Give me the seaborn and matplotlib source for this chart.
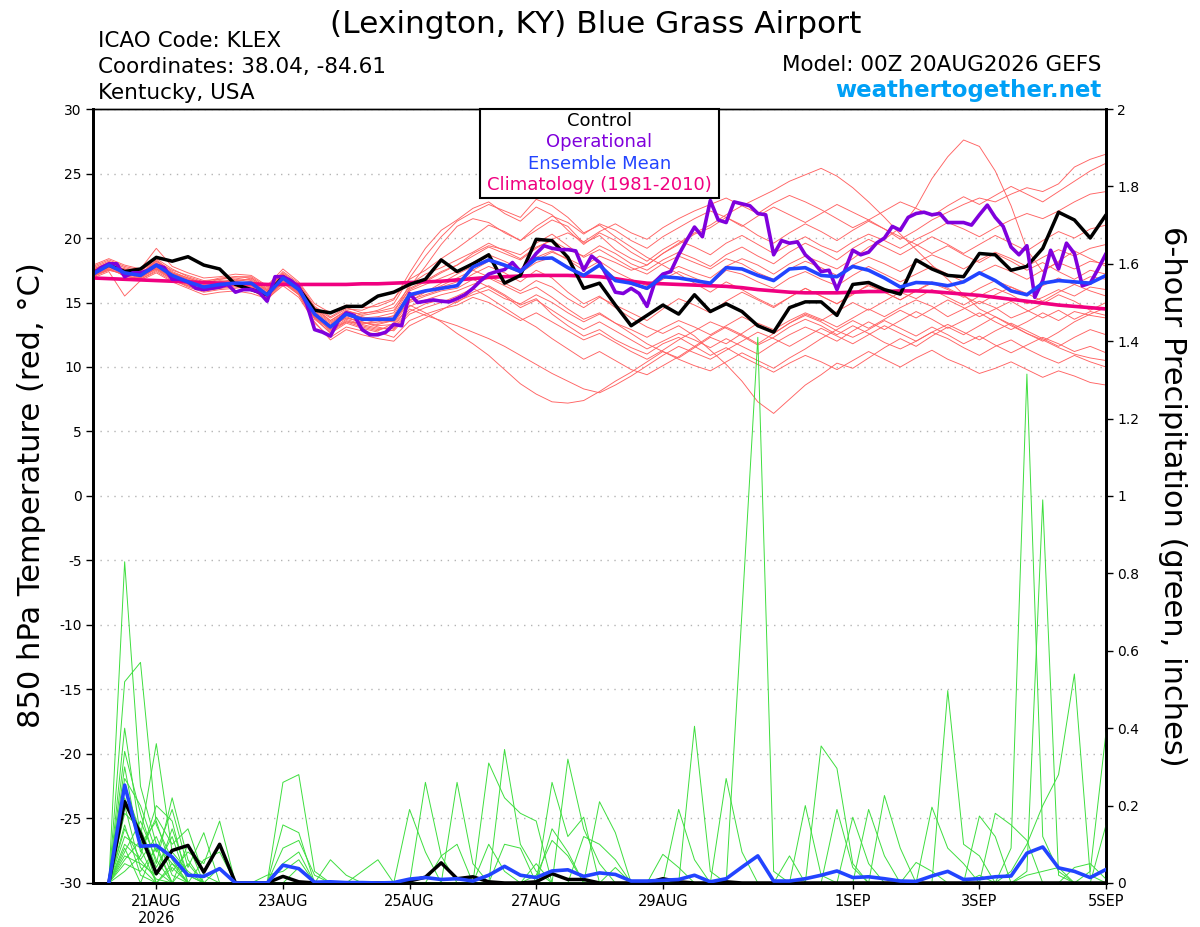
import numpy as np
import pandas as pd
import seaborn as sns
import matplotlib.pyplot as plt
from matplotlib.patches import Rectangle


# forecast hours since 00Z 20AUG2026 (6-hourly ensemble, 3-hourly operational)
hours = np.arange(0, 385, 6)
hours_op = np.arange(0, 385, 3)

tick_hours = [24, 72, 120, 168, 216, 288, 336, 384]
tick_labels = ['21AUG\n2026', '23AUG', '25AUG', '27AUG', '29AUG', '1SEP', '3SEP', '5SEP']

# 850 hPa temperature (C)
control_t = [17.3, 17.9, 17.4, 17.6, 18.5, 18.2, 18.55, 17.9, 17.6, 16.4, 16.0, 15.6, 17.0,
             16.1, 14.4, 14.2, 14.7, 14.7, 15.5, 15.8, 16.4, 16.8, 18.3, 17.4, 18.0, 18.7,
             16.5, 17.1, 19.9, 19.8, 18.5, 16.1, 16.5, 14.8, 13.2, 14.0, 14.8, 14.1, 15.6,
             14.3, 14.9, 14.3, 13.2, 12.7, 14.6, 15.05, 15.05, 14.0, 16.4, 16.55, 16.0, 15.65,
             18.3, 17.6, 17.1, 17.0, 18.8, 18.7, 17.5, 17.8, 19.2, 22.0, 21.4, 20.0, 21.8]

oper_t = [17.2, 17.7, 18.0, 18.0, 17.0, 17.3, 17.3, 17.5, 17.9, 17.7, 16.8, 16.8, 16.6,
          16.1, 16.0, 16.1, 16.2, 16.4, 15.8, 16.0, 16.0, 15.8, 15.1, 17.0, 17.0, 16.7,
          16.2, 14.9, 12.9, 12.7, 12.4, 13.6, 14.2, 14.0, 12.9, 12.5, 12.5, 12.7, 13.3,
          13.2, 15.7, 15.0, 15.1, 15.2, 15.1, 15.05, 15.3, 15.6, 16.1, 16.7, 17.2, 17.4,
          17.55, 18.1, 17.4, 18.0, 18.8, 19.4, 19.2, 19.1, 19.1, 19.0, 17.5, 18.6, 18.1,
          17.0, 15.8, 15.7, 16.1, 15.7, 14.7, 16.6, 17.2, 17.4, 18.7, 19.8, 20.85, 20.1,
          22.9, 21.4, 21.2, 22.8, 22.65, 22.5, 21.9, 21.8, 18.7, 19.8, 19.6, 19.7, 18.7,
          18.15, 17.4, 17.5, 16.0, 17.5, 19.05, 18.7, 18.9, 19.6, 20.0, 20.9, 20.6, 21.6,
          21.9, 22.0, 21.8, 21.9, 21.2, 21.2, 21.2, 21.0, 21.8, 22.55, 21.6, 20.9, 19.3,
          18.7, 19.4, 15.4, 16.7, 19.05, 17.6, 19.6, 18.8, 16.3, 16.5, 17.6, 18.8]

mean_t = [17.2, 17.9, 17.3, 17.1, 17.9, 17.1, 16.6, 16.2, 16.4, 16.5, 16.5, 15.6, 16.9,
          16.0, 14.1, 13.1, 14.1, 13.7, 13.7, 13.7, 15.6, 15.9, 16.1, 16.3, 17.75, 18.3,
          17.9, 17.4, 18.4, 18.45, 17.7, 17.1, 17.9, 16.7, 16.5, 16.1, 17.0, 16.9, 16.7,
          16.5, 17.7, 17.6, 17.1, 16.7, 17.6, 17.7, 17.1, 17.0, 17.8, 17.5, 16.9, 16.2,
          16.55, 16.5, 16.3, 16.6, 17.3, 16.7, 15.9, 15.6, 16.5, 16.7, 16.6, 16.5, 17.1]

clim_t = [16.9, 16.85, 16.8, 16.75, 16.7, 16.65, 16.6, 16.55, 16.5, 16.45, 16.45, 16.4, 16.4,
          16.4, 16.4, 16.4, 16.4, 16.45, 16.45, 16.5, 16.55, 16.6, 16.65, 16.75, 16.85, 16.95,
          17.0, 17.05, 17.1, 17.1, 17.1, 17.05, 17.0, 16.85, 16.65, 16.5, 16.45, 16.4, 16.35,
          16.3, 16.25, 16.15, 16.0, 15.9, 15.8, 15.75, 15.75, 15.75, 15.8, 15.85, 15.85, 15.9,
          15.9, 15.85, 15.75, 15.65, 15.55, 15.4, 15.25, 15.1, 14.95, 14.8, 14.7, 14.6, 14.5]

t01 = [17.5, 18.0, 17.6, 17.2, 18.3, 17.4, 16.9, 16.5, 16.8, 16.9, 16.7, 16.0, 17.3,
       16.4, 14.6, 13.8, 14.5, 14.4, 14.9, 15.3, 16.8, 17.5, 18.4, 19.2, 20.1, 21.0,
       20.5, 19.8, 20.6, 21.4, 20.9, 19.6, 20.2, 19.1, 18.4, 17.9, 18.8, 19.5, 20.3,
       20.8, 21.6, 21.0, 20.2, 19.6, 20.4, 21.1, 20.5, 19.8, 20.6, 21.3, 20.7, 19.9,
       20.6, 21.4, 22.0, 22.6, 23.1, 22.8, 23.4, 23.9, 23.6, 24.2, 25.5, 26.1, 26.5]
t02 = [17.0, 17.6, 17.1, 16.8, 17.5, 16.8, 16.3, 15.9, 16.1, 16.2, 16.0, 15.2, 16.5,
       15.6, 13.4, 12.3, 13.1, 12.8, 12.5, 12.9, 14.3, 14.9, 15.2, 15.0, 15.8, 16.3,
       15.6, 14.8, 15.3, 14.1, 13.2, 12.4, 12.9, 12.1, 11.5, 11.0, 11.8, 12.3, 11.6,
       10.9, 11.5, 10.8, 10.2, 9.6, 10.3, 10.9, 10.4, 9.8, 10.5, 11.2, 10.6, 10.0,
       10.7, 11.3, 10.6, 10.1, 9.5, 9.9, 10.4, 9.8, 9.2, 9.7, 9.3, 8.8, 8.6]
t03 = [17.3, 17.7, 17.4, 16.9, 17.7, 17.0, 16.5, 16.3, 16.2, 16.6, 16.4, 15.4, 16.7,
       15.7, 13.9, 12.8, 13.6, 13.2, 12.9, 13.1, 14.8, 14.2, 13.5, 12.6, 11.8, 10.9,
       9.8, 8.7, 7.9, 7.3, 7.2, 7.4, 8.1, 8.9, 9.6, 10.4, 11.2, 10.7, 11.5,
       12.3, 11.8, 12.6, 13.4, 12.9, 13.6, 14.2, 13.7, 13.1, 13.8, 14.5, 13.9, 14.6,
       15.2, 14.7, 13.9, 14.5, 15.1, 14.6, 13.8, 14.3, 14.9, 15.6, 15.1, 14.4, 15.0]
t04 = [17.6, 18.1, 17.5, 17.3, 18.0, 17.2, 16.8, 16.4, 16.6, 16.7, 16.8, 15.9, 17.1,
       16.2, 14.3, 13.4, 14.2, 13.9, 13.6, 13.5, 15.2, 15.6, 16.0, 16.4, 17.2, 17.8,
       17.3, 16.6, 17.5, 16.9, 15.8, 14.9, 15.5, 14.6, 13.8, 13.1, 12.6, 13.2, 12.4,
       11.3, 10.2, 8.9, 7.3, 6.4, 7.5, 8.6, 9.4, 10.3, 9.9, 10.7, 11.5, 12.2,
       11.6, 12.4, 13.1, 12.5, 13.2, 13.9, 13.3, 12.6, 12.0, 12.7, 13.5, 14.1, 14.6]
t05 = [17.2, 17.8, 17.0, 16.9, 17.8, 16.9, 16.4, 16.0, 16.3, 16.3, 16.4, 15.5, 16.8,
       15.9, 14.0, 13.0, 13.9, 13.4, 13.5, 13.8, 15.9, 16.4, 16.9, 17.4, 18.1, 18.7,
       18.2, 17.6, 18.5, 19.0, 18.3, 17.5, 18.2, 17.4, 16.8, 16.3, 17.2, 17.8, 17.3,
       16.9, 17.8, 18.4, 17.9, 17.2, 18.0, 18.6, 18.1, 17.6, 18.4, 19.3, 19.9, 20.8,
       22.4, 24.6, 26.3, 27.6, 27.1, 25.2, 22.5, 19.1, 17.4, 18.2, 19.0, 18.4, 17.8]
t06 = [17.9, 18.4, 17.9, 17.6, 19.2, 17.8, 17.3, 16.9, 17.0, 17.2, 17.1, 16.3, 17.6,
       16.6, 14.9, 14.2, 14.8, 14.6, 14.7, 15.2, 17.3, 19.2, 20.6, 21.4, 22.3, 22.8,
       21.9, 21.3, 22.4, 21.8, 20.6, 19.5, 20.4, 19.8, 18.9, 18.2, 19.1, 19.8, 19.3,
       18.7, 19.6, 20.2, 19.5, 18.8, 19.5, 20.1, 19.4, 18.9, 19.7, 20.3, 19.8, 19.2,
       19.9, 20.5, 21.2, 20.7, 20.1, 20.8, 21.4, 21.9, 21.5, 22.1, 22.8, 23.4, 23.6]
t07 = [17.4, 17.9, 17.2, 17.0, 17.6, 16.8, 16.2, 15.8, 16.0, 16.1, 16.3, 15.3, 16.6,
       15.8, 13.8, 12.6, 13.4, 13.0, 12.7, 12.3, 13.6, 14.1, 14.5, 14.8, 15.4, 15.0,
       14.3, 13.6, 14.2, 13.5, 12.8, 12.1, 12.6, 11.9, 11.2, 10.6, 11.3, 12.1, 12.8,
       13.5, 13.0, 12.4, 11.7, 12.3, 13.1, 13.7, 13.2, 12.5, 13.2, 12.6, 11.9, 11.4,
       12.0, 12.7, 12.2, 11.5, 10.9, 11.6, 12.1, 11.4, 10.8, 10.3, 10.9, 10.4, 10.0]
t08 = [17.1, 17.5, 17.3, 17.2, 17.9, 17.3, 16.7, 16.1, 16.5, 16.4, 16.6, 15.8, 16.9,
       15.9, 14.2, 13.3, 14.3, 13.8, 13.9, 14.2, 16.4, 17.2, 17.7, 18.3, 18.9, 19.6,
       19.0, 18.4, 19.3, 19.8, 19.1, 18.6, 19.4, 18.8, 18.0, 17.5, 18.3, 18.9, 18.4,
       17.8, 18.7, 19.3, 18.6, 18.0, 18.9, 19.6, 19.0, 18.3, 19.2, 19.9, 19.3, 18.7,
       19.4, 20.1, 19.5, 18.8, 19.5, 20.2, 19.6, 19.0, 19.8, 20.5, 20.0, 20.7, 21.0]
t09 = [17.0, 17.7, 17.6, 17.1, 17.6, 17.0, 16.6, 16.2, 16.3, 16.5, 16.2, 15.6, 17.0,
       16.1, 14.1, 13.2, 13.8, 13.5, 13.1, 12.8, 14.1, 14.6, 15.0, 15.5, 16.1, 15.4,
       14.6, 13.8, 13.1, 12.2, 11.4, 10.6, 11.2, 10.5, 9.8, 9.4, 10.1, 10.8, 11.6,
       12.4, 13.1, 12.5, 11.8, 12.6, 13.4, 14.1, 13.6, 14.3, 15.0, 14.4, 15.1, 15.8,
       15.3, 16.0, 15.4, 14.8, 15.5, 16.1, 15.6, 14.9, 15.4, 16.0, 15.5, 16.2, 16.0]
t10 = [17.7, 18.2, 17.7, 17.4, 18.4, 17.6, 17.0, 16.6, 16.9, 17.0, 16.9, 16.1, 17.4,
       16.5, 14.7, 13.9, 14.6, 14.2, 14.3, 14.6, 16.2, 17.8, 19.5, 20.9, 21.5, 21.2,
       20.4, 19.8, 20.9, 21.7, 21.2, 20.3, 21.1, 20.6, 19.8, 19.2, 20.1, 20.8, 21.5,
       22.1, 21.6, 20.9, 21.7, 22.4, 21.8, 21.2, 21.9, 22.6, 22.0, 21.4, 22.1, 22.8,
       22.3, 21.7, 22.5, 23.2, 22.6, 23.3, 24.0, 23.4, 22.8, 23.6, 24.4, 25.2, 25.8]
t11 = [17.3, 17.9, 17.4, 17.0, 17.8, 17.1, 16.6, 16.3, 16.4, 16.6, 16.5, 15.7, 16.8,
       15.9, 14.1, 13.0, 14.0, 13.6, 13.8, 13.9, 15.4, 15.9, 16.2, 16.6, 17.5, 18.2,
       17.8, 17.3, 18.1, 18.5, 17.8, 17.2, 17.9, 16.9, 16.4, 16.0, 16.8, 17.4, 16.9,
       16.4, 17.5, 17.2, 16.6, 16.1, 16.9, 17.4, 16.8, 16.3, 17.1, 17.8, 17.2, 16.6,
       17.2, 17.8, 17.2, 16.6, 17.3, 17.9, 17.4, 16.8, 17.5, 18.1, 17.6, 18.2, 18.0]
t12 = [16.9, 17.4, 15.5, 16.7, 17.3, 16.6, 16.1, 15.6, 15.8, 15.9, 15.7, 15.3, 16.3,
       15.4, 13.5, 12.1, 12.9, 12.5, 12.2, 12.0, 13.2, 13.8, 14.4, 15.1, 15.6, 16.0,
       15.3, 14.9, 15.6, 15.0, 14.2, 13.5, 14.1, 13.4, 12.9, 12.3, 13.0, 13.6, 13.1,
       12.5, 13.2, 13.9, 13.3, 12.6, 13.4, 14.0, 13.5, 12.8, 12.3, 12.9, 13.6, 13.0,
       12.4, 13.1, 12.5, 11.8, 12.4, 11.7, 11.1, 11.7, 12.3, 11.8, 11.2, 11.6, 11.1]
t13 = [17.8, 18.3, 17.8, 17.5, 18.2, 17.5, 17.1, 16.7, 16.8, 17.0, 17.0, 16.2, 17.2,
       16.3, 14.5, 13.6, 14.4, 14.0, 14.2, 14.4, 16.0, 16.6, 17.3, 17.9, 18.6, 19.3,
       18.8, 18.3, 19.2, 19.9, 20.4, 19.7, 20.5, 21.1, 20.4, 19.9, 20.8, 21.5, 22.1,
       22.6, 23.1, 22.5, 21.9, 22.7, 23.3, 22.8, 22.2, 21.5, 20.8, 21.4, 20.7, 20.1,
       19.5, 18.8, 19.4, 18.7, 18.1, 18.8, 18.2, 17.5, 18.1, 17.4, 16.8, 17.5, 17.2]
t14 = [17.2, 17.6, 17.1, 16.8, 17.4, 16.7, 16.3, 15.9, 16.2, 16.3, 16.1, 15.4, 16.6,
       15.6, 13.7, 12.7, 13.5, 13.1, 12.8, 13.4, 15.0, 15.5, 15.9, 16.1, 16.8, 16.2,
       15.5, 14.6, 15.2, 14.4, 13.6, 12.9, 13.5, 12.8, 12.1, 11.4, 12.0, 12.6, 12.1,
       11.5, 12.2, 11.6, 11.0, 11.8, 12.5, 13.1, 12.6, 12.0, 12.8, 13.5, 12.9, 13.6,
       14.3, 13.7, 13.0, 13.6, 14.2, 13.5, 12.9, 13.5, 14.2, 13.6, 14.3, 14.0, 13.8]
t15 = [17.5, 18.0, 17.4, 17.3, 18.1, 17.3, 16.8, 16.4, 16.6, 16.8, 16.6, 15.9, 16.9,
       16.1, 14.4, 13.5, 14.2, 13.8, 13.6, 14.0, 16.1, 16.7, 17.4, 17.9, 18.8, 19.4,
       19.1, 18.7, 19.6, 20.3, 19.4, 18.5, 19.1, 18.4, 17.7, 17.2, 18.0, 18.6, 18.1,
       17.6, 18.4, 18.0, 17.3, 16.8, 17.6, 18.2, 17.7, 17.1, 17.9, 18.5, 18.0, 17.4,
       18.1, 18.7, 18.2, 17.6, 18.3, 18.9, 18.4, 17.8, 18.5, 19.1, 18.6, 19.2, 19.5]
t16 = [17.1, 17.6, 17.5, 17.0, 17.7, 16.9, 16.4, 16.1, 16.2, 16.4, 16.3, 15.5, 16.7,
       15.8, 13.9, 12.9, 13.7, 13.3, 13.0, 13.0, 14.5, 14.0, 13.6, 13.2, 12.7, 12.2,
       11.6, 10.9, 10.2, 9.5, 8.9, 8.3, 8.0, 8.6, 9.3, 10.1, 10.9, 11.6, 11.1,
       10.6, 11.3, 12.0, 12.7, 12.2, 11.6, 12.3, 13.0, 12.4, 11.8, 12.5, 13.2, 12.6,
       12.0, 12.7, 13.3, 12.7, 12.1, 12.8, 13.4, 12.8, 12.2, 11.6, 12.3, 12.9, 12.5]
t17 = [17.6, 18.0, 17.3, 17.2, 18.2, 17.3, 16.9, 16.5, 16.7, 16.6, 16.9, 16.0, 17.2,
       16.3, 14.6, 13.6, 14.3, 14.1, 14.4, 14.9, 16.9, 18.6, 20.1, 21.3, 22.0, 22.6,
       22.1, 21.6, 23.0, 22.5, 21.6, 20.4, 21.0, 20.1, 19.3, 18.5, 17.9, 17.2, 16.5,
       15.8, 16.6, 16.0, 15.3, 14.7, 15.4, 16.1, 15.5, 14.9, 15.7, 16.3, 15.8, 15.2,
       15.9, 16.5, 16.0, 15.4, 16.1, 16.7, 16.2, 15.6, 16.3, 16.9, 16.4, 17.0, 16.8]
t18 = [17.4, 17.8, 17.2, 17.1, 17.7, 17.1, 16.5, 16.2, 16.5, 16.4, 16.6, 15.7, 16.9,
       16.0, 14.2, 13.2, 14.1, 13.7, 13.4, 13.6, 15.1, 15.8, 16.5, 17.2, 17.8, 18.4,
       17.9, 17.5, 18.3, 18.9, 18.4, 17.8, 18.6, 18.1, 17.5, 17.9, 18.8, 19.6, 20.4,
       21.0, 21.8, 22.5, 23.1, 23.7, 24.4, 24.9, 25.4, 24.8, 23.9, 22.8, 21.6, 20.3,
       19.1, 17.9, 16.8, 15.6, 14.5, 13.9, 13.2, 12.6, 12.1, 11.5, 11.0, 10.7, 10.5]
t19 = [17.0, 17.5, 17.2, 16.9, 17.6, 16.9, 16.4, 15.9, 16.1, 16.3, 16.2, 15.4, 16.6,
       15.7, 13.8, 12.9, 13.5, 13.4, 13.3, 13.6, 15.4, 15.8, 16.3, 16.9, 17.5, 17.0,
       16.5, 15.9, 16.7, 16.2, 15.3, 14.6, 15.4, 14.8, 14.2, 13.6, 14.5, 15.3, 14.8,
       14.2, 15.1, 15.8, 15.2, 14.6, 15.4, 16.1, 15.5, 14.9, 15.6, 16.4, 15.8, 15.2,
       15.9, 16.6, 16.1, 15.5, 14.9, 15.6, 16.2, 15.7, 15.1, 15.8, 16.4, 15.9, 15.5]
t20 = [17.5, 17.9, 17.5, 17.2, 17.9, 17.0, 16.6, 16.3, 16.5, 16.4, 16.5, 15.7, 16.8,
       15.9, 14.0, 13.1, 13.8, 13.5, 13.2, 13.3, 14.7, 15.2, 15.6, 15.9, 16.4, 16.9,
       16.3, 15.7, 16.2, 15.4, 14.5, 13.7, 14.2, 13.4, 12.6, 11.8, 11.2, 10.6, 10.1,
       9.7, 10.4, 11.1, 10.5, 9.9, 10.7, 11.4, 12.2, 12.9, 13.6, 13.0, 13.7, 14.4,
       13.8, 14.5, 15.2, 14.6, 13.9, 14.5, 15.1, 14.4, 13.8, 14.4, 13.7, 14.3, 14.0]

# 6-hour precipitation (inches), hours 6..384
control_p = [0, 0.21, 0.127, 0.024, 0.084, 0.097, 0.028, 0.10, 0, 0, 0, 0.017, 0.003, 0, 0, 0,
             0, 0, 0, 0.005, 0.015, 0.052, 0.011, 0.016, 0.003, 0, 0, 0.003, 0.024, 0.009, 0.009, 0,
             0, 0, 0, 0.011, 0.003, 0, 0, 0.003, 0, 0, 0, 0, 0, 0, 0, 0,
             0, 0, 0, 0, 0, 0, 0, 0, 0, 0, 0, 0, 0, 0, 0, 0]
mean_p = [0, 0.253, 0.095, 0.097, 0.067, 0.02, 0.017, 0.037, 0, 0, 0, 0.046, 0.037, 0.002, 0.003, 0.001,
          0.001, 0, 0.001, 0.01, 0.014, 0.009, 0.011, 0.005, 0.02, 0.043, 0.02, 0.014, 0.031, 0.034, 0.017, 0.026,
          0.022, 0.005, 0.005, 0.007, 0.009, 0.02, 0.003, 0.011, 0.041, 0.07, 0.005, 0.005, 0.011, 0.02, 0.031, 0.014,
          0.016, 0.011, 0.005, 0.004, 0.018, 0.03, 0.009, 0.011, 0.016, 0.018, 0.077, 0.093, 0.039, 0.03, 0.014, 0.035]

p01 = [0, .83, .25, .10, .05, .02, 0, 0, 0, 0, 0, 0, 0, 0, 0, 0,
       0, 0, 0, 0, 0, .07, .10, 0, .31, .22, .18, .16, 0, 0, 0, 0,
       0, 0, 0, 0, 0, 0, 0, 0, 0, 0, 0, 0, 0, 0, 0, 0,
       0, 0, 0, 0, 0, 0, 0, 0, 0, .09, 1.315, .12, .03, 0, 0, 0]
p02 = [0, .52, .57, .15, .06, 0, 0, 0, 0, 0, 0, 0, 0, 0, .06, .02,
       0, 0, 0, 0, 0, 0, 0, 0, 0, 0, 0, 0, 0, 0, 0, 0,
       0, 0, 0, .074, .04, 0, 0, 0, 0, 0, 0, 0, 0, 0, 0, 0,
       0, 0, 0, 0, 0, 0, 0, 0, 0, 0, 0, 0, 0, 0, .03, .39]
p03 = [0, .40, .12, .36, .08, .03, 0, 0, 0, 0, 0, .26, .28, .03, 0, 0,
       0, 0, 0, 0, 0, 0, 0, 0, 0, 0, 0, 0, 0, 0, 0, 0,
       0, 0, 0, 0, 0, 0, 0, 0, 0, 0, 0, 0, .2, .02, 0, 0,
       0, 0, 0, 0, 0, 0, 0, 0, 0, 0, 0, 0, 0, 0, 0, 0]
p04 = [0, .34, .18, .05, .22, .06, 0, 0, 0, 0, 0, 0, 0, 0, 0, 0,
       0, 0, 0, .19, .08, 0, 0, 0, 0, 0, 0, 0, 0, 0, 0, 0,
       0, 0, 0, 0, 0, 0, 0, 0, 0, 0, 0, 0, 0, 0, 0, 0,
       0, 0, 0, 0, 0, 0, 0, 0, 0, .03, .1, .2, .28, .54, .02, 0]
p05 = [0, .30, .08, .17, .10, .14, .02, 0, 0, 0, 0, .15, .13, 0, 0, 0,
       0, 0, 0, 0, 0, 0, 0, 0, 0, 0, 0, 0, 0, 0, 0, 0,
       0, 0, 0, 0, 0, .405, .03, 0, 0, 0, 0, 0, 0, 0, 0, 0,
       0, 0, 0, 0, 0, 0, 0, 0, 0, 0, 0, 0, 0, 0, 0, 0]
p06 = [0, .27, .20, .08, .19, .04, .13, 0, 0, 0, 0, 0, 0, 0, 0, 0,
       0, 0, 0, 0, .26, .07, 0, 0, 0, 0, 0, 0, 0, 0, 0, 0,
       0, 0, 0, 0, 0, 0, 0, 0, 0, 0, 0, 0, 0, .354, .296, .05,
       0, 0, 0, 0, 0, 0, 0, 0, 0, 0, 0, 0, 0, 0, 0, 0]
p07 = [0, .22, .10, .16, .03, .08, .05, .16, 0, 0, 0, .09, .11, .02, 0, 0,
       0, 0, 0, 0, 0, 0, 0, 0, 0, 0, 0, 0, 0, 0, 0, 0,
       0, 0, 0, 0, 0, 0, 0, 0, .7, 1.41, .03, 0, 0, 0, 0, 0,
       0, 0, 0, 0, 0, 0, 0, 0, 0, 0, 0, 0, 0, 0, 0, 0]
p08 = [0, .18, .14, .04, .12, 0, .06, .08, 0, 0, 0, 0, 0, 0, 0, 0,
       0, 0, 0, 0, 0, 0, .26, .05, 0, 0, 0, 0, 0, 0, 0, 0,
       0, 0, 0, 0, 0, 0, 0, 0, 0, 0, 0, 0, 0, 0, .19, .04,
       0, 0, 0, 0, 0, 0, 0, 0, 0, 0, 0, 0, 0, 0, 0, 0]
p09 = [0, .10, .06, .12, .02, 0, 0, 0, 0, 0, 0, .05, .08, 0, 0, 0,
       0, 0, 0, 0, 0, 0, 0, 0, 0, 0, 0, 0, 0, 0, 0, 0,
       0, 0, 0, 0, 0, 0, 0, .27, .08, 0, 0, 0, 0, 0, 0, 0,
       0, 0, 0, 0, 0, 0, 0, 0, 0, 0, .02, .03, .04, 0, 0, 0]
p10 = [0, .08, .16, .06, 0, 0, 0, 0, 0, 0, 0, 0, 0, 0, 0, 0,
       .03, .06, 0, 0, 0, 0, 0, 0, 0, 0, 0, .02, .11, .07, 0, 0,
       .04, 0, 0, 0, 0, 0, 0, 0, 0, 0, 0, 0, 0, 0, 0, .17,
       .05, 0, 0, 0, 0, 0, 0, 0, 0, 0, 0, 0, 0, 0, 0, 0]
p11 = [0, .07, .05, .02, .14, .02, 0, 0, 0, 0, 0, 0, 0, 0, 0, 0,
       0, 0, 0, 0, 0, 0, 0, 0, 0, .345, .10, .03, 0, 0, 0, 0,
       0, 0, 0, 0, 0, 0, 0, 0, 0, 0, 0, 0, 0, 0, 0, 0,
       .19, .07, 0, 0, 0, 0, 0, 0, 0, 0, 0, 0, 0, 0, 0, 0]
p12 = [0, .12, .09, 0, .04, 0, 0, 0, 0, 0, .02, .03, .06, 0, 0, 0,
       0, 0, 0, 0, 0, 0, 0, 0, 0, 0, 0, 0, 0, 0, 0, 0,
       0, 0, 0, 0, 0, 0, 0, 0, 0, 0, 0, .07, 0, 0, 0, 0,
       0, 0, 0, 0, 0, 0, 0, 0, 0, 0, 0, 0, 0, .04, .05, .01]
p13 = [0, .05, .03, .09, 0, 0, 0, 0, 0, 0, 0, 0, 0, 0, 0, 0,
       0, 0, 0, 0, 0, 0, 0, 0, 0, 0, 0, 0, .26, .12, .17, 0,
       0, 0, 0, 0, 0, 0, 0, 0, 0, 0, 0, 0, 0, 0, 0, 0,
       0, .226, .09, 0, 0, 0, 0, 0, 0, 0, 0, 0, 0, 0, 0, 0]
p14 = [0, .15, .02, 0, 0, 0, 0, 0, 0, 0, 0, 0, .04, 0, 0, 0,
       0, 0, 0, 0, 0, 0, 0, 0, 0, 0, 0, 0, 0, 0, 0, 0,
       0, 0, 0, 0, 0, 0, 0, 0, 0, 0, 0, 0, 0, 0, 0, 0,
       0, 0, 0, 0, .196, .09, .05, 0, 0, 0, 0, 0, 0, 0, 0, 0]
p15 = [0, .06, .11, .03, 0, .10, 0, 0, 0, 0, 0, 0, 0, 0, 0, 0,
       0, 0, 0, 0, 0, 0, 0, 0, 0, 0, 0, 0, 0, .32, .14, .05,
       0, 0, 0, 0, 0, 0, 0, 0, 0, 0, 0, 0, 0, 0, 0, 0,
       0, 0, 0, 0, 0, .497, .1, .07, 0, 0, 0, 0, 0, 0, 0, 0]
p16 = [0, .20, .04, 0, 0, 0, 0, 0, 0, 0, 0, 0, 0, 0, 0, 0,
       0, 0, 0, 0, 0, 0, 0, 0, 0, 0, 0, 0, 0, 0, 0, .21,
       .13, 0, 0, 0, 0, 0, 0, 0, 0, 0, 0, 0, 0, 0, 0, 0,
       0, 0, 0, 0, 0, 0, 0, .173, .12, 0, 0, 0, 0, 0, 0, 0]
p17 = [0, .03, .07, .20, .16, 0, 0, 0, 0, 0, 0, 0, 0, 0, 0, 0,
       0, 0, 0, 0, 0, 0, 0, 0, 0, .1, .09, 0, .14, .08, 0, 0,
       0, 0, 0, 0, 0, 0, 0, 0, 0, 0, 0, 0, 0, 0, 0, 0,
       0, 0, 0, 0, 0, 0, 0, 0, .18, .15, .11, 0, 0, 0, 0, 0]
p18 = [0, .25, .13, 0, .05, 0, 0, 0, 0, 0, 0, 0, 0, 0, 0, 0,
       0, 0, 0, 0, 0, 0, 0, 0, 0, 0, 0, 0, 0, 0, .12, .10,
       .06, 0, 0, 0, 0, 0, 0, 0, 0, 0, 0, 0, 0, 0, 0, 0,
       0, 0, 0, .053, .03, 0, 0, .02, 0, 0, 0, 0, 0, 0, 0, 0]
p19 = [0, .09, 0, .10, 0, .05, 0, .04, 0, 0, 0, 0, 0, 0, 0, 0,
       0, 0, 0, 0, 0, 0, 0, 0, .10, .03, 0, .05, 0, 0, 0, 0,
       0, 0, 0, 0, 0, 0, 0, 0, 0, 0, 0, 0, 0, 0, 0, 0,
       0, 0, 0, 0, 0, 0, 0, 0, 0, 0, .03, .99, .02, 0, 0, 0]
p20 = [0, .14, .06, .01, 0, 0, 0, 0, 0, 0, 0, 0, 0, 0, 0, 0,
       0, 0, 0, 0, 0, 0, 0, 0, 0, 0, 0, 0, 0, 0, 0, 0,
       0, 0, 0, 0, .19, .06, 0, 0, 0, 0, 0, 0, 0, 0, 0, 0,
       0, 0, 0, 0, 0, 0, 0, 0, 0, 0, 0, 0, 0, 0, 0, .15]

temp_members = [t01, t02, t03, t04, t05, t06, t07, t08, t09, t10,
                t11, t12, t13, t14, t15, t16, t17, t18, t19, t20]
precip_members = [p01, p02, p03, p04, p05, p06, p07, p08, p09, p10,
                  p11, p12, p13, p14, p15, p16, p17, p18, p19, p20]

C_RED = '#ff6262'
C_GREEN = '#3ede3e'
C_OPER = '#8000dc'
C_MEAN = '#2244ff'
C_CLIM = '#f00080'

# long-form tables for seaborn
df_t = pd.concat([pd.DataFrame({'hour': hours, 'value': m, 'member': k})
                  for k, m in enumerate(temp_members)], ignore_index=True)
df_p = pd.concat([pd.DataFrame({'hour': hours[1:], 'value': m, 'member': k})
                  for k, m in enumerate(precip_members)], ignore_index=True)

sns.set_style('ticks')
plt.rcParams['font.family'] = ['DejaVu Sans']
plt.rcParams['axes.unicode_minus'] = False
for key in ('text.color', 'axes.labelcolor', 'xtick.color', 'ytick.color', 'axes.edgecolor'):
    plt.rcParams[key] = 'black'

fig = plt.figure(figsize=(12, 9.27), dpi=100)
ax = fig.add_axes([0.0775, 0.0475, 0.8442, 0.8349])

# temperature
sns.lineplot(data=df_t, x='hour', y='value', units='member', estimator=None,
             color=C_RED, lw=0.65, ax=ax, legend=False, zorder=2)
sns.lineplot(x=hours, y=clim_t, color=C_CLIM, lw=2.6, ax=ax, zorder=3)
sns.lineplot(x=hours, y=control_t, color='black', lw=2.5, ax=ax, zorder=4)
sns.lineplot(x=hours_op, y=oper_t, color=C_OPER, lw=2.6, ax=ax, zorder=5)
sns.lineplot(x=hours, y=mean_t, color=C_MEAN, lw=2.6, ax=ax, zorder=6)

ax.set_xlim(0, 384)
ax.set_ylim(-30, 30)
ax.set_yticks(range(-30, 31, 5))
ax.set_xticks(tick_hours)
ax.set_xticklabels(tick_labels)
ax.set_xlabel('')
ax.set_ylabel('')
ax.grid(axis='y', color='#b4b4b4', linestyle=(0, (1, 4)), linewidth=1)
ax.tick_params(axis='y', direction='out', length=5, width=1, labelsize=10, pad=3)
ax.tick_params(axis='x', direction='out', length=4, width=1, labelsize=10.5, pad=4)

# precipitation on the right axis
ax2 = ax.twinx()
sns.lineplot(data=df_p, x='hour', y='value', units='member', estimator=None,
             color=C_GREEN, lw=0.7, ax=ax2, legend=False, zorder=2)
sns.lineplot(x=hours[1:], y=control_p, color='black', lw=2.5, ax=ax2, zorder=4)
sns.lineplot(x=hours[1:], y=mean_p, color=C_MEAN, lw=2.6, ax=ax2, zorder=5)
ax2.set_ylim(0, 2)
ax2.set_xlim(0, 384)
p_ticks = np.round(np.arange(0, 2.01, 0.2), 1)
ax2.set_yticks(p_ticks)
ax2.set_yticklabels([f'{v:g}' for v in p_ticks])
ax2.set_ylabel('')
ax2.tick_params(axis='y', direction='out', length=5, width=1, labelsize=10, pad=3)

for a in (ax, ax2):
    for side in ('left', 'right', 'bottom'):
        a.spines[side].set_linewidth(2.0)
    a.spines['top'].set_linewidth(1.0)
    for s in a.spines.values():
        s.set_color('black')
        s.set_visible(True)

# legend box
ax2.add_patch(Rectangle((0.382, 0.885), 0.236, 0.115, transform=ax2.transAxes,
                        facecolor='white', edgecolor='black', lw=1.5, zorder=20,
                        clip_on=False))
legend_items = [('Control', 'black'), ('Operational', C_OPER),
                ('Ensemble Mean', C_MEAN), ('Climatology (1981-2010)', C_CLIM)]
for k, (txt, col) in enumerate(legend_items):
    ax2.text(0.5, 0.9845 - k * 0.0277, txt, color=col, fontsize=13, ha='center',
             va='center', transform=ax2.transAxes, zorder=21)

# header text
fig.text(0.496, 1 - 33 / 927, '(Lexington, KY) Blue Grass Airport', fontsize=22.5,
         ha='center', va='baseline')
fig.text(98 / 1200, 1 - 47 / 927, 'ICAO Code: KLEX', fontsize=15.5, va='baseline')
fig.text(98 / 1200, 1 - 73 / 927, 'Coordinates: 38.04, -84.61', fontsize=15.5, va='baseline')
fig.text(98 / 1200, 1 - 99 / 927, 'Kentucky, USA', fontsize=15.5, va='baseline')
fig.text(1101 / 1200, 1 - 71 / 927, 'Model: 00Z 20AUG2026 GEFS', fontsize=15.5,
         ha='right', va='baseline')
fig.text(1101 / 1200, 1 - 97 / 927, 'weathertogether.net', fontsize=16.5, fontweight='bold',
         color='#00a0f6', ha='right', va='baseline')

fig.text(0.026, 0.466, '850 hPa Temperature (red, °C)', fontsize=22, rotation=90,
         ha='center', va='center')
fig.text(0.9775, 0.465, '6-hour Precipitation (green, inches)', fontsize=22, rotation=270,
         ha='center', va='center')

fig.savefig('out.png', dpi=100)
